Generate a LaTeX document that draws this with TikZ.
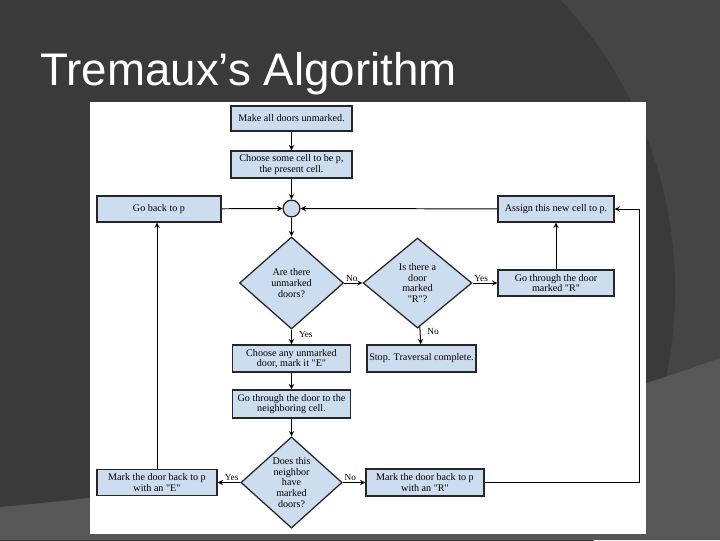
\documentclass[tikz,border=0pt]{standalone}
\usepackage{fontspec}
\setmainfont{Liberation Serif}
\newfontfamily\titlefont{Liberation Sans}
\usetikzlibrary{shapes.geometric}
\definecolor{slidedark}{HTML}{3A3A3A}
\definecolor{slidemid}{HTML}{454545}
\definecolor{slidelight}{HTML}{575757}
\definecolor{boxblue}{RGB}{204,221,240}
\newcommand{\qt}[1]{\textquotedbl#1\textquotedbl}
\tikzset{
  stepbox/.style={draw=black!85, line width=0.9pt, fill=boxblue, align=center,
    inner sep=1pt, font=\fontsize{7.2}{7.4}\selectfont},
  test/.style={diamond, draw=black!85, line width=0.9pt, fill=boxblue, align=center,
    inner sep=-6pt, font=\fontsize{7.2}{7.6}\selectfont},
  lbl/.style={font=\fontsize{6.6}{7}\selectfont, inner sep=1pt},
  flow/.style={->, line width=0.7pt}
}
\begin{document}
\begin{tikzpicture}[>=stealth, x=0.025cm, y=-0.025cm]
	  \useasboundingbox (0,0) rectangle (720,540);
	  % slide background
	  \fill[slidemid] (0,0) rectangle (720,540);
	  \begin{scope}
	    \clip (0,0) rectangle (720,540);
	    \fill[slidedark] (250,290) circle (425);
	  \end{scope}
	  \fill[slidelight] (0,507) .. controls (300,480) and (550,420) .. (720,358) -- (720,540) -- (0,540) -- cycle;
	  \node[anchor=base west, text=white, inner sep=0pt, font=\titlefont\fontsize{32.5}{36}\selectfont] (title) at (40,85) {Tremaux’s Algorithm};
	  \fill[white] (90,102) rectangle (646,534);
	  % flowchart
	  \node[stepbox, minimum width=3.03cm, minimum height=0.63cm] (unmark) at (291.5,118.5) {Make all doors unmarked.};
	  \node[stepbox, minimum width=3.03cm, minimum height=0.68cm] (choosep) at (291.5,164.5) {Choose some cell to be p,\\the present cell.};
	  \node[circle, draw=black!85, line width=0.9pt, fill=boxblue, minimum size=0.42cm, inner sep=0pt] (join) at (291.5,208.5) {};
	  \node[stepbox, minimum width=3.1cm, minimum height=0.65cm] (goback) at (159,209) {Go back to p};
	  \node[stepbox, minimum width=2.9cm, minimum height=0.65cm] (assign) at (556,209) {Assign this new cell to p.};
	  \node[test, minimum width=2.6cm, minimum height=2.3cm] (unmarked) at (291.5,283) {Are there\\unmarked\\doors?};
	  \node[test, minimum width=2.72cm, minimum height=2.25cm] (markedr) at (417.5,283) {Is there a\\door\\marked\\\qt{R}?};
	  \node[stepbox, minimum width=2.9cm, minimum height=0.65cm] (throughr) at (556,283) {Go through the door\\marked \qt{R}};
	  \node[stepbox, minimum width=2.95cm, minimum height=0.68cm] (mark) at (291.5,358.5) {Choose any unmarked\\door, mark it \qt{E}};
	  \node[stepbox, minimum width=2.73cm, minimum height=0.68cm] (stop) at (421.5,358.5) {Stop. Traversal complete.};
	  \node[stepbox, minimum width=2.95cm, minimum height=0.7cm] (neighbor) at (291.5,404) {Go through the door to the\\neighboring cell.};
	  \node[test, minimum width=2.53cm, minimum height=2.28cm] (hasmarked) at (291.5,482.5) {Does this\\neighbor\\have\\marked\\doors?};
	  \node[stepbox, minimum width=3.0cm, minimum height=0.65cm] (backe) at (157,482.5) {Mark the door back to p\\with an \qt{E}};
	  \node[stepbox, minimum width=2.95cm, minimum height=0.67cm] (backr) at (425,482.5) {Mark the door back to p\\with an \qt{R}};
	  \coordinate (rcorner) at (639,482.5);
	  \draw[flow] (unmark) -- (choosep);
	  \draw[flow] (choosep) -- (join);
	  \draw[flow] (goback) -- (join);
	  \draw[flow] (assign) -- (join);
	  \draw[flow] (join) -- (unmarked);
	  \draw[flow] (unmarked) -- node[lbl, pos=0, anchor=south west] {No} (markedr);
	  \draw[flow] (markedr) -- node[lbl, pos=0, anchor=south west] {Yes} (throughr);
	  \draw[flow] (throughr) -- (assign);
	  \draw[flow] (unmarked) -- node[lbl, pos=0, anchor=north west, xshift=4pt] {Yes} (mark);
	  \draw[flow] (markedr) -- node[lbl, pos=0, anchor=north west, xshift=4pt] {No} (stop);
	  \draw[flow] (mark) -- (neighbor);
	  \draw[flow] (neighbor) -- (hasmarked);
	  \draw[flow] (hasmarked) -- node[lbl, pos=0, anchor=south east] {Yes} (backe);
	  \draw[flow] (hasmarked) -- node[lbl, pos=0, anchor=south west] {No} (backr);
	  \draw[flow] (backe.north) -- (backe.north |- goback.south);
	  \draw[flow] (backr) -- (rcorner) |- (assign);
	\end{tikzpicture}
\end{document}
